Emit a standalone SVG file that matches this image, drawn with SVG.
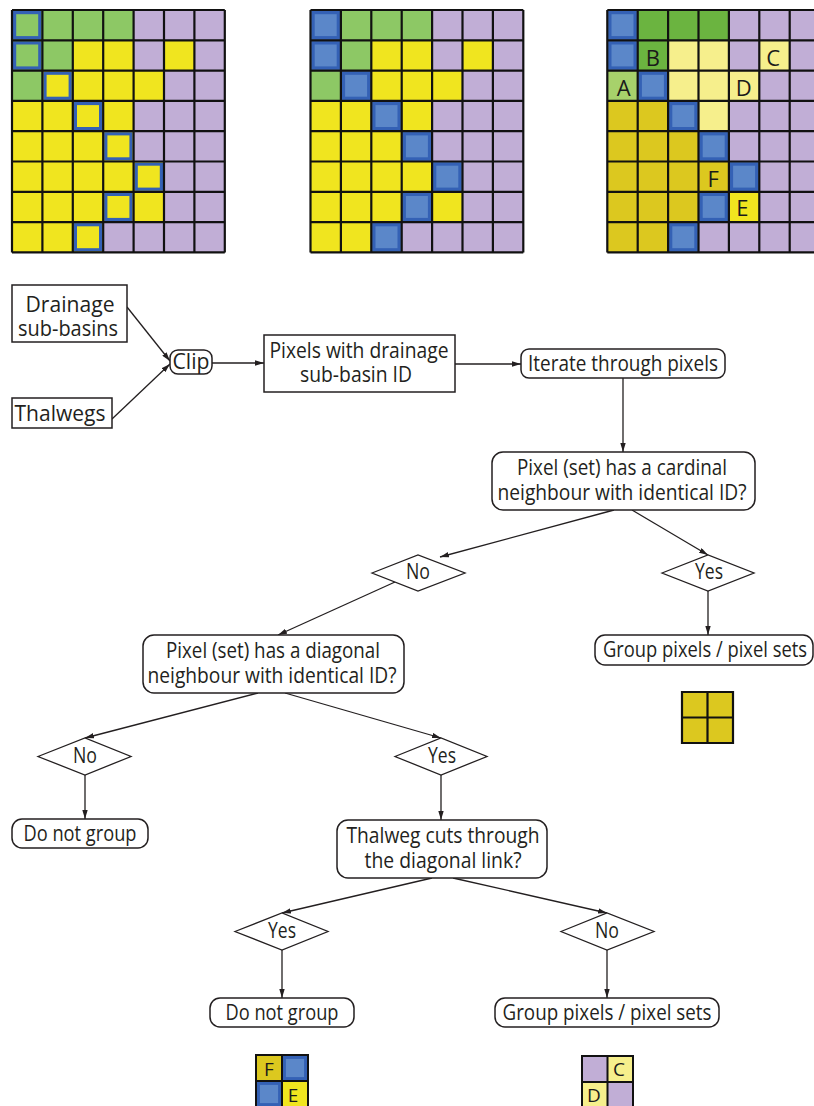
<svg xmlns="http://www.w3.org/2000/svg" width="814" height="1106" viewBox="0 0 814 1106">
  <style>
    .g{fill:#8dc865}.p{fill:#c1aed6}.y{fill:#f0e51f}.b{fill:#5b87c9}
    .dg{fill:#6bb440}.lg{fill:#a7d16b}.ly{fill:#f6ef8c}.dy{fill:#dcc81f}
    .ring{fill:none;stroke:#3461b5;stroke-width:3.2}
    .gridlines{fill:none;stroke:#111;stroke-width:2.2}
    .box{fill:#fff;stroke:#231f20;stroke-width:1.5}
    .dia{fill:#fff;stroke:#231f20;stroke-width:1.3}
    .t{font-family:"Open Sans","Noto Sans",sans-serif;font-size:21px;fill:#231f20;text-anchor:middle}
    .lbl{font-family:"Open Sans","Noto Sans",sans-serif;font-size:22px;fill:#1a1a1a;text-anchor:middle}
    .conn line{stroke:#231f20;stroke-width:1.3;marker-end:url(#arrow)}
  </style>
  <defs>
    <marker id="arrow" viewBox="0 0 10 6" refX="10" refY="3" markerWidth="9" markerHeight="5.5" markerUnits="userSpaceOnUse" orient="auto">
      <path d="M0,0 L10,3 L0,6 z" fill="#231f20"/>
    </marker>
    <!-- 7 x 8 cell lattice, cell 30.4 x 30.3 -->
    <path id="lattice" class="gridlines" d="M0,0V242.4M30.4,0V242.4M60.8,0V242.4M91.2,0V242.4M121.6,0V242.4M152,0V242.4M182.4,0V242.4M212.8,0V242.4
      M0,0H212.8M0,30.3H212.8M0,60.6H212.8M0,90.9H212.8M0,121.2H212.8M0,151.5H212.8M0,181.8H212.8M0,212.1H212.8M0,242.4H212.8"/>
    <!-- thalweg cell ring -->
    <rect id="ring" class="ring" x="2.6" y="2.6" width="25.2" height="25.1"/>
  </defs>

  <!-- Grid 1: sub-basin pixels with thalweg pixels outlined -->
  <g id="grid-1" transform="translate(12,10)">
    <g>
      <rect class="g" x="0" y="0" width="121.6" height="30.3"/><rect class="p" x="121.6" y="0" width="91.2" height="30.3"/>
      <rect class="g" x="0" y="30.3" width="60.8" height="30.3"/><rect class="y" x="60.8" y="30.3" width="60.8" height="30.3"/><rect class="p" x="121.6" y="30.3" width="30.4" height="30.3"/><rect class="y" x="152" y="30.3" width="30.4" height="30.3"/><rect class="p" x="182.4" y="30.3" width="30.4" height="30.3"/>
      <rect class="g" x="0" y="60.6" width="30.4" height="30.3"/><rect class="y" x="30.4" y="60.6" width="121.6" height="30.3"/><rect class="p" x="152" y="60.6" width="60.8" height="30.3"/>
      <rect class="y" x="0" y="90.9" width="121.6" height="60.6"/><rect class="p" x="121.6" y="90.9" width="91.2" height="60.6"/>
      <rect class="y" x="0" y="151.5" width="152" height="60.6"/><rect class="p" x="152" y="151.5" width="60.8" height="60.6"/>
      <rect class="y" x="0" y="212.1" width="91.2" height="30.3"/><rect class="p" x="91.2" y="212.1" width="121.6" height="30.3"/>
    </g>
    <use href="#ring" x="0" y="0"/><use href="#ring" x="0" y="30.3"/><use href="#ring" x="30.4" y="60.6"/><use href="#ring" x="60.8" y="90.9"/>
    <use href="#ring" x="91.2" y="121.2"/><use href="#ring" x="121.6" y="151.5"/><use href="#ring" x="91.2" y="181.8"/><use href="#ring" x="60.8" y="212.1"/>
    <use href="#lattice"/>
  </g>

  <!-- Grid 2: thalweg pixels filled -->
  <g id="grid-2" transform="translate(310.5,10)">
    <g>
      <rect class="g" x="0" y="0" width="121.6" height="30.3"/><rect class="p" x="121.6" y="0" width="91.2" height="30.3"/>
      <rect class="g" x="0" y="30.3" width="60.8" height="30.3"/><rect class="y" x="60.8" y="30.3" width="60.8" height="30.3"/><rect class="p" x="121.6" y="30.3" width="30.4" height="30.3"/><rect class="y" x="152" y="30.3" width="30.4" height="30.3"/><rect class="p" x="182.4" y="30.3" width="30.4" height="30.3"/>
      <rect class="g" x="0" y="60.6" width="30.4" height="30.3"/><rect class="y" x="30.4" y="60.6" width="121.6" height="30.3"/><rect class="p" x="152" y="60.6" width="60.8" height="30.3"/>
      <rect class="y" x="0" y="90.9" width="121.6" height="60.6"/><rect class="p" x="121.6" y="90.9" width="91.2" height="60.6"/>
      <rect class="y" x="0" y="151.5" width="152" height="60.6"/><rect class="p" x="152" y="151.5" width="60.8" height="60.6"/>
      <rect class="y" x="0" y="212.1" width="91.2" height="30.3"/><rect class="p" x="91.2" y="212.1" width="121.6" height="30.3"/>
    </g>
    <g class="b">
      <rect x="0" y="0" width="30.4" height="60.6"/><rect x="30.4" y="60.6" width="30.4" height="30.3"/><rect x="60.8" y="90.9" width="30.4" height="30.3"/>
      <rect x="91.2" y="121.2" width="30.4" height="30.3"/><rect x="121.6" y="151.5" width="30.4" height="30.3"/><rect x="91.2" y="181.8" width="30.4" height="30.3"/><rect x="60.8" y="212.1" width="30.4" height="30.3"/>
    </g>
    <use href="#ring" x="0" y="0"/><use href="#ring" x="0" y="30.3"/><use href="#ring" x="30.4" y="60.6"/><use href="#ring" x="60.8" y="90.9"/>
    <use href="#ring" x="91.2" y="121.2"/><use href="#ring" x="121.6" y="151.5"/><use href="#ring" x="91.2" y="181.8"/><use href="#ring" x="60.8" y="212.1"/>
    <use href="#lattice"/>
  </g>

  <!-- Grid 3: resulting pixel sets with labelled cases -->
  <g id="grid-3" transform="translate(607.3,10)">
    <g>
      <rect class="dg" x="30.4" y="0" width="91.2" height="30.3"/><rect class="p" x="121.6" y="0" width="91.2" height="30.3"/>
      <rect class="dg" x="30.4" y="30.3" width="30.4" height="30.3"/><rect class="ly" x="60.8" y="30.3" width="60.8" height="30.3"/><rect class="p" x="121.6" y="30.3" width="30.4" height="30.3"/><rect class="ly" x="152" y="30.3" width="30.4" height="30.3"/><rect class="p" x="182.4" y="30.3" width="30.4" height="30.3"/>
      <rect class="lg" x="0" y="60.6" width="30.4" height="30.3"/><rect class="ly" x="60.8" y="60.6" width="91.2" height="30.3"/><rect class="p" x="152" y="60.6" width="60.8" height="30.3"/>
      <rect class="dy" x="0" y="90.9" width="60.8" height="30.3"/><rect class="ly" x="91.2" y="90.9" width="30.4" height="30.3"/><rect class="p" x="121.6" y="90.9" width="91.2" height="30.3"/>
      <rect class="dy" x="0" y="121.2" width="91.2" height="30.3"/><rect class="p" x="121.6" y="121.2" width="91.2" height="30.3"/>
      <rect class="dy" x="0" y="151.5" width="121.6" height="30.3"/><rect class="p" x="152" y="151.5" width="60.8" height="30.3"/>
      <rect class="dy" x="0" y="181.8" width="91.2" height="30.3"/><rect class="y" x="121.6" y="181.8" width="30.4" height="30.3"/><rect class="p" x="152" y="181.8" width="60.8" height="30.3"/>
      <rect class="dy" x="0" y="212.1" width="60.8" height="30.3"/><rect class="p" x="91.2" y="212.1" width="121.6" height="30.3"/>
    </g>
    <g class="b">
      <rect x="0" y="0" width="30.4" height="60.6"/><rect x="30.4" y="60.6" width="30.4" height="30.3"/><rect x="60.8" y="90.9" width="30.4" height="30.3"/>
      <rect x="91.2" y="121.2" width="30.4" height="30.3"/><rect x="121.6" y="151.5" width="30.4" height="30.3"/><rect x="91.2" y="181.8" width="30.4" height="30.3"/><rect x="60.8" y="212.1" width="30.4" height="30.3"/>
    </g>
    <use href="#ring" x="0" y="0"/><use href="#ring" x="0" y="30.3"/><use href="#ring" x="30.4" y="60.6"/><use href="#ring" x="60.8" y="90.9"/>
    <use href="#ring" x="91.2" y="121.2"/><use href="#ring" x="121.6" y="151.5"/><use href="#ring" x="91.2" y="181.8"/><use href="#ring" x="60.8" y="212.1"/>
    <use href="#lattice"/>
    <text class="lbl" x="45.5" y="55.5">B</text>
    <text class="lbl" x="166" y="55.5">C</text>
    <text class="lbl" x="16.5" y="85.5">A</text>
    <text class="lbl" x="136.5" y="85.5">D</text>
    <text class="lbl" x="106" y="177">F</text>
    <text class="lbl" x="135" y="205.5">E</text>
  </g>

  <!-- Connectors -->
  <g id="connectors" class="conn">
    <line x1="127" y1="307" x2="170" y2="361"/>
    <line x1="112" y1="419" x2="170" y2="364"/>
    <line x1="212" y1="363" x2="264" y2="363"/>
    <line x1="455" y1="364" x2="521" y2="364"/>
    <line x1="623" y1="378" x2="623" y2="452"/>
    <line x1="614" y1="510" x2="440" y2="557"/>
    <line x1="632" y1="510" x2="708" y2="555"/>
    <line x1="708" y1="591" x2="708" y2="635"/>
    <line x1="395" y1="582" x2="278" y2="635"/>
    <line x1="258" y1="693" x2="85" y2="738"/>
    <line x1="285" y1="693" x2="441" y2="738"/>
    <line x1="85" y1="775" x2="85" y2="819"/>
    <line x1="441" y1="775" x2="441" y2="820"/>
    <line x1="432" y1="878" x2="282" y2="913"/>
    <line x1="453" y1="878" x2="607" y2="913"/>
    <line x1="282" y1="950" x2="282" y2="998"/>
    <line x1="607" y1="950" x2="607" y2="998"/>
  </g>

  <g id="drainage-sub-basins">
    <rect class="box" x="12" y="285" width="115" height="57"/>
    <text class="t" x="70" y="312" textLength="89" lengthAdjust="spacingAndGlyphs">Drainage</text>
    <text class="t" x="68" y="336" textLength="100" lengthAdjust="spacingAndGlyphs">sub-basins</text>
  </g>
  <g id="thalwegs">
    <rect class="box" x="12" y="398" width="100" height="30"/>
    <text class="t" x="60" y="421" textLength="91" lengthAdjust="spacingAndGlyphs">Thalwegs</text>
  </g>
  <g id="clip">
    <rect class="box" x="170" y="350" width="42" height="24" rx="8"/>
    <text class="t" x="191" y="369" textLength="37" lengthAdjust="spacingAndGlyphs">Clip</text>
  </g>
  <g id="pixels-with-id">
    <rect class="box" x="264" y="335" width="191" height="57"/>
    <text class="t" x="359" y="358" textLength="179" lengthAdjust="spacingAndGlyphs">Pixels with drainage</text>
    <text class="t" x="356" y="382" textLength="112" lengthAdjust="spacingAndGlyphs">sub-basin ID</text>
  </g>
  <g id="iterate">
    <rect class="box" x="521" y="349" width="204" height="29" rx="8"/>
    <text class="t" x="623" y="371" textLength="190" lengthAdjust="spacingAndGlyphs">Iterate through pixels</text>
  </g>
  <g id="cardinal-check">
    <rect class="box" x="492" y="452" width="263" height="58" rx="11"/>
    <text class="t" x="622" y="475" textLength="210" lengthAdjust="spacingAndGlyphs">Pixel (set) has a cardinal</text>
    <text class="t" x="622" y="500" textLength="249" lengthAdjust="spacingAndGlyphs">neighbour with identical ID?</text>
  </g>
  <g id="cardinal-no">
    <polygon class="dia" points="372,573 418,555 465,573 418,591"/>
    <text class="t" x="418" y="579" textLength="24" lengthAdjust="spacingAndGlyphs">No</text>
  </g>
  <g id="cardinal-yes">
    <polygon class="dia" points="662,573 708,555 754,573 708,591"/>
    <text class="t" x="709" y="579" textLength="28" lengthAdjust="spacingAndGlyphs">Yes</text>
  </g>
  <g id="group-cardinal">
    <rect class="box" x="595" y="635" width="218" height="30" rx="10"/>
    <text class="t" x="705" y="657" textLength="204" lengthAdjust="spacingAndGlyphs">Group pixels / pixel sets</text>
  </g>
  <g id="cardinal-example">
    <rect class="dy" x="682" y="692" width="51" height="51"/>
    <path d="M682,692H733V743H682ZM707.5,692V743M682,717.5H733" fill="none" stroke="#111" stroke-width="2.2"/>
  </g>
  <g id="diagonal-check">
    <rect class="box" x="143" y="635" width="261" height="58" rx="11"/>
    <text class="t" x="273" y="658" textLength="214" lengthAdjust="spacingAndGlyphs">Pixel (set) has a diagonal</text>
    <text class="t" x="272" y="683" textLength="249" lengthAdjust="spacingAndGlyphs">neighbour with identical ID?</text>
  </g>
  <g id="diagonal-no">
    <polygon class="dia" points="38,756.5 85,738 131,756.5 85,775"/>
    <text class="t" x="85" y="763" textLength="24" lengthAdjust="spacingAndGlyphs">No</text>
  </g>
  <g id="diagonal-yes">
    <polygon class="dia" points="395,756.5 441,738 487,756.5 441,775"/>
    <text class="t" x="442" y="763" textLength="28" lengthAdjust="spacingAndGlyphs">Yes</text>
  </g>
  <g id="do-not-group-1">
    <rect class="box" x="12" y="819" width="136" height="29" rx="10"/>
    <text class="t" x="80" y="841" textLength="113" lengthAdjust="spacingAndGlyphs">Do not group</text>
  </g>
  <g id="thalweg-check">
    <rect class="box" x="337" y="820" width="210" height="58" rx="11"/>
    <text class="t" x="443" y="843" textLength="193" lengthAdjust="spacingAndGlyphs">Thalweg cuts through</text>
    <text class="t" x="443" y="868" textLength="157" lengthAdjust="spacingAndGlyphs">the diagonal link?</text>
  </g>
  <g id="thalweg-yes">
    <polygon class="dia" points="235,931.5 282,913 328,931.5 282,950"/>
    <text class="t" x="282" y="938" textLength="28" lengthAdjust="spacingAndGlyphs">Yes</text>
  </g>
  <g id="thalweg-no">
    <polygon class="dia" points="561,931.5 607,913 654,931.5 607,950"/>
    <text class="t" x="607" y="938" textLength="24" lengthAdjust="spacingAndGlyphs">No</text>
  </g>
  <g id="do-not-group-2">
    <rect class="box" x="210" y="998" width="144" height="29" rx="10"/>
    <text class="t" x="282" y="1020" textLength="113" lengthAdjust="spacingAndGlyphs">Do not group</text>
  </g>
  <g id="group-diagonal">
    <rect class="box" x="495" y="998" width="224" height="29" rx="10"/>
    <text class="t" x="607" y="1020" textLength="209" lengthAdjust="spacingAndGlyphs">Group pixels / pixel sets</text>
  </g>

  <!-- Case examples: thalweg crossing (F/E) and no crossing (C/D) -->
  <g id="example-fe">
    <rect class="dy" x="256" y="1055" width="26" height="26"/>
    <rect class="b" x="282" y="1055" width="26" height="26"/>
    <rect class="b" x="256" y="1081" width="26" height="26"/>
    <rect class="y" x="282" y="1081" width="26" height="26"/>
    <rect class="ring" x="284.3" y="1057.3" width="21.4" height="21.4"/>
    <rect class="ring" x="258.3" y="1083.3" width="21.4" height="21.4"/>
    <path d="M256,1055H308V1107H256ZM282,1055V1107M256,1081H308" fill="none" stroke="#111" stroke-width="2"/>
    <text class="lbl" x="269" y="1076" style="font-size:19px">F</text>
    <text class="lbl" x="293" y="1102" style="font-size:19px">E</text>
  </g>
  <g id="example-cd">
    <rect class="p" x="582" y="1056" width="25.5" height="26"/>
    <rect class="ly" x="607.5" y="1056" width="25.5" height="26"/>
    <rect class="ly" x="582" y="1082" width="25.5" height="26"/>
    <rect class="p" x="607.5" y="1082" width="25.5" height="26"/>
    <path d="M582,1056H633V1108H582ZM607.5,1056V1108M582,1082H633" fill="none" stroke="#111" stroke-width="2"/>
    <text class="lbl" x="619" y="1076" style="font-size:19px">C</text>
    <text class="lbl" x="594" y="1102" style="font-size:19px">D</text>
  </g>
</svg>
